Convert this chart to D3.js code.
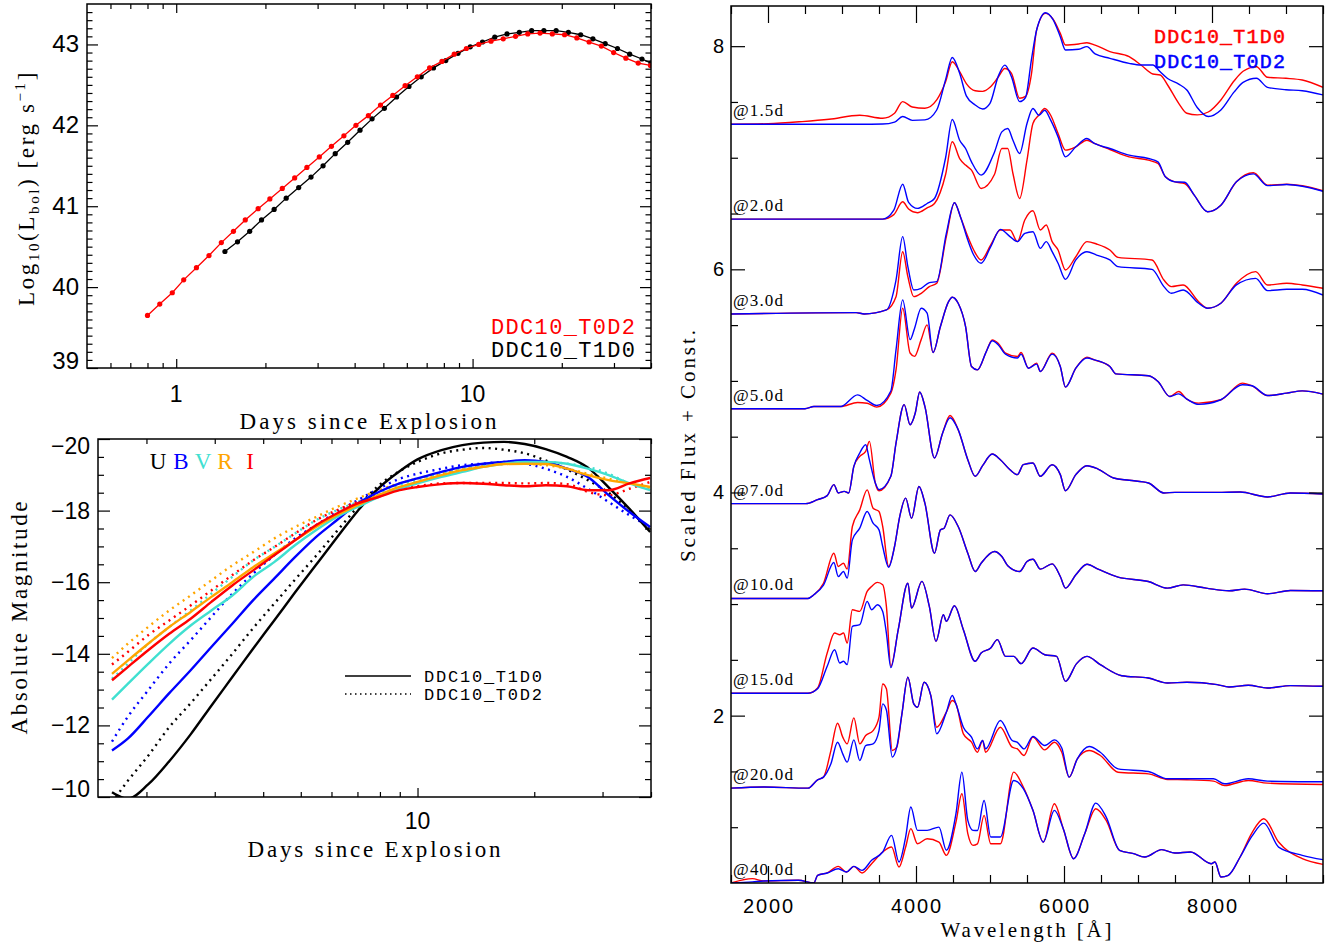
<!DOCTYPE html>
<html>
<head>
<meta charset="utf-8">
<script src="https://cdn.jsdelivr.net/npm/d3@7"></script>
<style>
  body { margin: 0; background: #fff; }
  svg text { font-family: "Liberation Serif", serif; fill: #000; }
  svg text.num { font-family: "Liberation Sans", sans-serif; }
  svg text.mono { font-family: "Liberation Mono", monospace; }
</style>
</head>
<body>
<svg id="fig" width="1326" height="946"></svg>
<script>
// ---------- bolometric light curves (top left) ----------
const lbolTimesT0D2 = [0.80, 0.88, 0.97, 1.06, 1.17, 1.29, 1.42, 1.56, 1.71, 1.89, 2.07, 2.28, 2.51, 2.76, 3.04, 3.34, 3.68, 4.04, 4.45, 4.89, 5.38, 5.92, 6.51, 7.16, 7.88, 8.67, 9.53, 10.49, 11.54, 12.69, 13.96, 15.35, 16.89, 18.58, 20.44, 22.48, 24.73, 27.20, 29.92, 32.91, 36.21, 39.83];
const lbolT0D2 = [39.65, 39.79, 39.93, 40.09, 40.24, 40.39, 40.55, 40.69, 40.83, 40.97, 41.09, 41.22, 41.35, 41.48, 41.61, 41.74, 41.87, 42.00, 42.12, 42.25, 42.37, 42.49, 42.60, 42.71, 42.79, 42.88, 42.95, 43.00, 43.04, 43.07, 43.10, 43.13, 43.14, 43.13, 43.12, 43.08, 43.03, 42.98, 42.90, 42.83, 42.77, 42.74];
const lbolTimesT1D0 = [1.46, 1.61, 1.77, 1.94, 2.14, 2.35, 2.59, 2.85, 3.13, 3.44, 3.79, 4.17, 4.58, 5.04, 5.54, 6.10, 6.71, 7.38, 8.12, 8.93, 9.82, 10.80, 11.88, 13.07, 14.38, 15.82, 17.40, 19.14, 21.05, 23.16, 25.47, 28.02, 30.82, 33.90, 37.29, 40.0];
const lbolT1D0 = [40.44, 40.56, 40.69, 40.83, 40.96, 41.10, 41.23, 41.36, 41.50, 41.65, 41.79, 41.94, 42.08, 42.21, 42.35, 42.48, 42.60, 42.71, 42.80, 42.89, 42.97, 43.03, 43.09, 43.13, 43.15, 43.17, 43.17, 43.17, 43.15, 43.12, 43.07, 43.01, 42.95, 42.88, 42.82, 42.77];

// ---------- UBVRI light curves (bottom left) ----------
const lcTimes = [1.63, 1.79, 2.02, 2.29, 2.6, 2.94, 3.33, 3.77, 4.27, 4.83, 5.47, 6.19, 7.01, 7.94, 8.99, 10, 11.53, 13.05, 14.78, 16.7, 18.9, 21.4, 24.3, 27.5, 31.1, 35.2, 39.8];
const U_T1D0 = [-10.13, -9.95, -10.35, -11.0, -11.75, -12.55, -13.35, -14.15, -14.93, -15.71, -16.48, -17.24, -17.99, -18.63, -19.1, -19.43, -19.69, -19.83, -19.9, -19.92, -19.86, -19.72, -19.5, -19.2, -18.65, -18.05, -17.4];
const U_T0D2 = [-9.85, -10.45, -11.15, -11.95, -12.62, -13.3, -14.0, -14.72, -15.4, -16.07, -16.73, -17.42, -18.1, -18.7, -19.1, -19.36, -19.6, -19.7, -19.75, -19.7, -19.6, -19.4, -19.15, -18.85, -18.5, -18.0, -17.45];
const B_T1D0 = [-11.30, -11.63, -12.24, -12.9, -13.54, -14.19, -14.84, -15.5, -16.1, -16.7, -17.26, -17.73, -18.2, -18.52, -18.76, -18.9, -19.08, -19.22, -19.31, -19.36, -19.41, -19.36, -19.17, -18.94, -18.43, -17.96, -17.54];
const B_T0D2 = [-11.55, -12.24, -12.98, -13.73, -14.38, -15.03, -15.68, -16.24, -16.75, -17.22, -17.59, -17.96, -18.29, -18.61, -18.89, -19.03, -19.17, -19.27, -19.31, -19.36, -19.31, -19.17, -18.94, -18.61, -18.24, -17.87, -17.54];
const V_T1D0 = [-12.72, -13.16, -13.72, -14.28, -14.79, -15.21, -15.63, -16.15, -16.56, -17.03, -17.45, -17.82, -18.1, -18.38, -18.61, -18.76, -18.94, -19.08, -19.22, -19.31, -19.36, -19.36, -19.31, -19.17, -18.99, -18.76, -18.57];
const V_T0D2 = [-13.3, -13.72, -14.28, -14.75, -15.21, -15.68, -16.15, -16.61, -16.98, -17.36, -17.73, -18.01, -18.24, -18.48, -18.71, -18.85, -19.03, -19.17, -19.27, -19.36, -19.39, -19.36, -19.31, -19.22, -19.03, -18.76, -18.61];
const R_T1D0 = [-13.44, -13.81, -14.28, -14.75, -15.17, -15.59, -16.0, -16.42, -16.8, -17.17, -17.54, -17.87, -18.15, -18.43, -18.66, -18.8, -18.99, -19.13, -19.22, -19.3, -19.31, -19.3, -19.17, -18.99, -18.85, -18.76, -18.66];
const R_T0D2 = [-13.88, -14.28, -14.75, -15.21, -15.63, -16.05, -16.47, -16.84, -17.22, -17.54, -17.82, -18.1, -18.34, -18.57, -18.76, -18.9, -19.03, -19.15, -19.24, -19.3, -19.31, -19.27, -19.17, -19.03, -18.89, -18.76, -18.61];
const I_T1D0 = [-13.26, -13.63, -14.1, -14.56, -14.98, -15.45, -15.91, -16.33, -16.75, -17.17, -17.59, -17.92, -18.2, -18.38, -18.57, -18.66, -18.74, -18.77, -18.75, -18.71, -18.68, -18.71, -18.68, -18.57, -18.57, -18.76, -18.91];
const I_T0D2 = [-13.7, -14.05, -14.52, -14.93, -15.35, -15.77, -16.2, -16.61, -16.98, -17.36, -17.73, -18.01, -18.24, -18.43, -18.59, -18.68, -18.76, -18.77, -18.77, -18.77, -18.76, -18.77, -18.74, -18.52, -18.43, -18.61, -18.8];
const bands = ["U", "B", "V", "R", "I"];
const bandColors = ["#000000", "#0000ff", "#40e0d0", "#ffa500", "#ff0000"];

// ---------- spectra (right), flux above each offset ----------
const epochLabels = ["@1.5d", "@2.0d", "@3.0d", "@5.0d", "@7.0d", "@10.0d", "@15.0d", "@20.0d", "@40.0d"];
const epochOffsets = [7.30, 6.45, 5.60, 4.75, 3.90, 3.05, 2.20, 1.35, 0.50];

const wave_1p5 = [1500, 2000, 2460, 2825, 3240, 3550, 3710, 3820, 3950, 4120, 4280, 4400, 4490, 4590, 4680, 4800, 4900, 5000, 5110, 5200, 5290, 5400, 5480, 5560, 5630, 5750, 5850, 5950, 6020, 6200, 6310, 6420, 6620, 6880, 7040, 7200, 7300, 7400, 7550, 7660, 7800, 7950, 8120, 8300, 8420, 8600, 8750, 9000, 9220, 9500];
const t1d0_1p5 = [0, 0.005, 0.024, 0.045, 0.081, 0.054, 0.099, 0.203, 0.155, 0.143, 0.218, 0.38, 0.561, 0.472, 0.365, 0.30, 0.295, 0.331, 0.421, 0.50, 0.457, 0.233, 0.25, 0.45, 0.845, 0.994, 0.945, 0.815, 0.710, 0.72, 0.731, 0.71, 0.651, 0.606, 0.531, 0.451, 0.442, 0.352, 0.188, 0.099, 0.084, 0.11, 0.218, 0.39, 0.475, 0.516, 0.421, 0.412, 0.397, 0.331];
const t0d2_1p5 = [0, 0, 0, 0, 0, 0.002, 0.02, 0.069, 0.035, 0.039, 0.128, 0.40, 0.599, 0.457, 0.255, 0.173, 0.137, 0.188, 0.427, 0.53, 0.427, 0.203, 0.24, 0.58, 0.845, 1.0, 0.94, 0.785, 0.666, 0.672, 0.696, 0.63, 0.591, 0.546, 0.531, 0.531, 0.47, 0.41, 0.36, 0.307, 0.15, 0.069, 0.128, 0.29, 0.375, 0.412, 0.331, 0.31, 0.301, 0.263];

const wave_2p0 = [1500, 3550, 3700, 3820, 3900, 4020, 4150, 4250, 4400, 4490, 4590, 4670, 4750, 4880, 5060, 5160, 5240, 5310, 5400, 5500, 5580, 5660, 5740, 5820, 5920, 6020, 6160, 6310, 6410, 6620, 6880, 7140, 7270, 7370, 7500, 7630, 7760, 7940, 8120, 8330, 8560, 8750, 9010, 9220, 9500];
const t1d0_2p0 = [0, 0, 0.04, 0.155, 0.09, 0.057, 0.10, 0.14, 0.40, 0.693, 0.543, 0.484, 0.439, 0.275, 0.40, 0.633, 0.633, 0.409, 0.185, 0.528, 0.857, 0.931, 0.991, 0.931, 0.767, 0.618, 0.648, 0.707, 0.678, 0.624, 0.558, 0.528, 0.499, 0.379, 0.334, 0.319, 0.215, 0.066, 0.125, 0.334, 0.415, 0.304, 0.313, 0.299, 0.254];
const t0d2_2p0 = [0, 0, 0.08, 0.313, 0.15, 0.096, 0.14, 0.185, 0.55, 0.893, 0.707, 0.633, 0.513, 0.394, 0.60, 0.782, 0.812, 0.707, 0.588, 0.857, 0.991, 0.931, 0.976, 0.887, 0.737, 0.558, 0.648, 0.722, 0.678, 0.633, 0.573, 0.543, 0.513, 0.379, 0.334, 0.33, 0.215, 0.066, 0.125, 0.334, 0.405, 0.30, 0.31, 0.295, 0.25];

const wave_3p0 = [1500, 3190, 3300, 3600, 3730, 3820, 3890, 3970, 4070, 4180, 4280, 4410, 4520, 4600, 4700, 4780, 4880, 5010, 5140, 5270, 5370, 5470, 5580, 5680, 5760, 5840, 5920, 6020, 6160, 6310, 6440, 6620, 6730, 7190, 7350, 7450, 7610, 7820, 7940, 8120, 8330, 8590, 8750, 9010, 9220, 9500];
const t1d0_3p0 = [0, 0.012, 0, 0.036, 0.155, 0.558, 0.334, 0.155, 0.185, 0.245, 0.275, 0.693, 0.997, 0.872, 0.693, 0.573, 0.484, 0.618, 0.752, 0.752, 0.648, 0.842, 0.925, 0.752, 0.797, 0.648, 0.573, 0.394, 0.513, 0.648, 0.627, 0.573, 0.507, 0.484, 0.304, 0.245, 0.260, 0.110, 0.051, 0.096, 0.275, 0.379, 0.260, 0.275, 0.260, 0.230];
const t0d2_3p0 = [0, 0.012, 0, 0.036, 0.304, 0.693, 0.424, 0.215, 0.230, 0.281, 0.290, 0.722, 0.997, 0.872, 0.663, 0.528, 0.454, 0.603, 0.758, 0.693, 0.648, 0.722, 0.737, 0.588, 0.648, 0.558, 0.454, 0.310, 0.484, 0.558, 0.528, 0.484, 0.424, 0.400, 0.245, 0.185, 0.215, 0.096, 0.051, 0.096, 0.260, 0.319, 0.209, 0.221, 0.221, 0.170];

const wave_5p0 = [1500, 2500, 2620, 2980, 3210, 3340, 3470, 3660, 3730, 3820, 3920, 3980, 4070, 4150, 4230, 4330, 4440, 4490, 4570, 4670, 4750, 4830, 4950, 5030, 5110, 5210, 5370, 5420, 5520, 5630, 5680, 5840, 5950, 6020, 6160, 6310, 6410, 6620, 6700, 7140, 7270, 7430, 7550, 7660, 7820, 8120, 8410, 8540, 8750, 9010, 9220, 9500];
const t1d0_5p0 = [0, 0, 0.02, 0.02, 0.057, 0.05, 0.015, 0.14, 0.349, 0.901, 0.50, 0.47, 0.62, 0.752, 0.504, 0.737, 0.961, 1.0, 0.946, 0.737, 0.379, 0.349, 0.513, 0.618, 0.588, 0.499, 0.469, 0.504, 0.364, 0.409, 0.334, 0.499, 0.379, 0.194, 0.364, 0.463, 0.439, 0.379, 0.313, 0.296, 0.245, 0.110, 0.155, 0.087, 0.051, 0.081, 0.230, 0.206, 0.119, 0.140, 0.161, 0.131];
const t0d2_5p0 = [0, 0, 0.02, 0.02, 0.125, 0.075, 0.03, 0.16, 0.528, 0.976, 0.62, 0.72, 0.901, 0.857, 0.504, 0.737, 0.961, 1.0, 0.946, 0.737, 0.379, 0.349, 0.513, 0.610, 0.575, 0.49, 0.455, 0.49, 0.364, 0.40, 0.334, 0.49, 0.379, 0.194, 0.364, 0.455, 0.439, 0.379, 0.313, 0.296, 0.245, 0.110, 0.134, 0.087, 0.04, 0.081, 0.215, 0.206, 0.119, 0.140, 0.161, 0.131];

const wave_7p0 = [1500, 2510, 2670, 2800, 2890, 2950, 3030, 3090, 3160, 3240, 3320, 3370, 3450, 3500, 3660, 3730, 3840, 3920, 3990, 4050, 4120, 4250, 4360, 4460, 4570, 4700, 4800, 4900, 5030, 5140, 5270, 5370, 5450, 5580, 5680, 5840, 5950, 6020, 6160, 6310, 6460, 6670, 6880, 7140, 7350, 7500, 7820, 8070, 8380, 8750, 9060, 9500];
const t1d0_7p0 = [0, 0, 0.036, 0.072, 0.170, 0.096, 0.110, 0.096, 0.334, 0.424, 0.469, 0.558, 0.185, 0.115, 0.245, 0.543, 0.887, 0.707, 0.812, 1.0, 0.872, 0.409, 0.633, 0.79, 0.663, 0.394, 0.245, 0.340, 0.445, 0.394, 0.304, 0.260, 0.349, 0.364, 0.245, 0.349, 0.260, 0.116, 0.260, 0.340, 0.310, 0.230, 0.209, 0.185, 0.096, 0.101, 0.101, 0.101, 0.104, 0.060, 0.096, 0.087];
const t0d2_7p0 = [0, 0, 0.036, 0.072, 0.170, 0.096, 0.110, 0.096, 0.334, 0.454, 0.528, 0.394, 0.185, 0.125, 0.245, 0.543, 0.887, 0.707, 0.812, 1.0, 0.872, 0.409, 0.633, 0.77, 0.663, 0.394, 0.245, 0.340, 0.445, 0.394, 0.304, 0.260, 0.349, 0.364, 0.245, 0.349, 0.260, 0.116, 0.260, 0.340, 0.310, 0.230, 0.209, 0.185, 0.096, 0.101, 0.101, 0.101, 0.104, 0.060, 0.096, 0.087];

const wave_10p0 = [1500, 2540, 2620, 2750, 2890, 2950, 3020, 3070, 3140, 3240, 3340, 3420, 3500, 3550, 3630, 3710, 3780, 3860, 3940, 4040, 4120, 4250, 4330, 4380, 4460, 4570, 4700, 4800, 4880, 5060, 5160, 5240, 5400, 5500, 5580, 5680, 5840, 5950, 6020, 6160, 6310, 6460, 6730, 7140, 7400, 7610, 7920, 8230, 8440, 8750, 9060, 9500];
const t1d0_10p0 = [0, 0, 0.033, 0.137, 0.406, 0.287, 0.316, 0.263, 0.645, 0.794, 0.973, 0.809, 0.779, 0.645, 0.287, 0.466, 0.734, 0.899, 0.719, 1.003, 0.854, 0.406, 0.615, 0.630, 0.749, 0.645, 0.406, 0.242, 0.316, 0.421, 0.376, 0.293, 0.242, 0.331, 0.352, 0.263, 0.310, 0.197, 0.093, 0.212, 0.307, 0.263, 0.191, 0.152, 0.093, 0.122, 0.093, 0.069, 0.084, 0.042, 0.072, 0.069];
const t0d2_10p0 = [0, 0, 0.033, 0.12, 0.322, 0.197, 0.242, 0.182, 0.525, 0.630, 0.779, 0.675, 0.615, 0.466, 0.28, 0.466, 0.734, 0.899, 0.719, 1.003, 0.854, 0.406, 0.615, 0.630, 0.749, 0.645, 0.406, 0.242, 0.316, 0.421, 0.376, 0.293, 0.242, 0.331, 0.352, 0.263, 0.310, 0.197, 0.093, 0.212, 0.307, 0.263, 0.191, 0.152, 0.093, 0.122, 0.093, 0.069, 0.084, 0.042, 0.072, 0.069];

const wave_15p0 = [1500, 2540, 2670, 2800, 2900, 2970, 3020, 3070, 3140, 3240, 3340, 3400, 3480, 3550, 3600, 3660, 3760, 3890, 3940, 4080, 4180, 4270, 4370, 4410, 4520, 4640, 4800, 4880, 5010, 5100, 5210, 5320, 5420, 5580, 5740, 5900, 6020, 6170, 6310, 6490, 6780, 7140, 7400, 7660, 8070, 8230, 8490, 8750, 9060, 9500];
const t1d0_15p0 = [0, 0, 0.048, 0.361, 0.540, 0.525, 0.540, 0.451, 0.749, 0.734, 0.913, 0.958, 0.994, 0.973, 0.779, 0.242, 0.570, 0.988, 0.764, 1.003, 0.779, 0.466, 0.704, 0.645, 0.785, 0.570, 0.287, 0.361, 0.406, 0.481, 0.331, 0.331, 0.266, 0.406, 0.346, 0.331, 0.107, 0.266, 0.331, 0.257, 0.158, 0.137, 0.093, 0.099, 0.078, 0.057, 0.072, 0.048, 0.069, 0.063];
const t0d2_15p0 = [0, 0, 0.04, 0.242, 0.391, 0.272, 0.287, 0.257, 0.600, 0.615, 0.824, 0.749, 0.794, 0.734, 0.540, 0.23, 0.570, 0.988, 0.764, 1.003, 0.779, 0.466, 0.704, 0.645, 0.785, 0.570, 0.287, 0.361, 0.406, 0.481, 0.331, 0.331, 0.266, 0.406, 0.346, 0.331, 0.107, 0.266, 0.331, 0.257, 0.158, 0.137, 0.093, 0.099, 0.078, 0.057, 0.072, 0.048, 0.069, 0.063];

const wave_20p0 = [1500, 1950, 2540, 2670, 2750, 2850, 2940, 3010, 3070, 3160, 3240, 3320, 3420, 3500, 3550, 3600, 3680, 3740, 3810, 3890, 3970, 4020, 4110, 4200, 4280, 4410, 4490, 4540, 4640, 4750, 4830, 4900, 4940, 5140, 5300, 5370, 5460, 5580, 5740, 5870, 5970, 6070, 6180, 6340, 6490, 6730, 7140, 7400, 7660, 8020, 8170, 8490, 8750, 9500];
const t1d0_20p0 = [0, 0.01, 0, 0.075, 0.099, 0.337, 0.582, 0.457, 0.397, 0.630, 0.397, 0.472, 0.516, 0.636, 0.934, 0.890, 0.337, 0.367, 0.666, 0.994, 0.755, 0.725, 0.949, 0.830, 0.546, 0.681, 0.785, 0.755, 0.487, 0.412, 0.322, 0.427, 0.322, 0.546, 0.367, 0.352, 0.293, 0.457, 0.343, 0.412, 0.322, 0.099, 0.263, 0.337, 0.293, 0.143, 0.128, 0.078, 0.075, 0.063, 0.024, 0.069, 0.045, 0.033];
const t0d2_20p0 = [0, 0.01, 0, 0.075, 0.099, 0.218, 0.412, 0.307, 0.233, 0.433, 0.248, 0.382, 0.397, 0.516, 0.755, 0.70, 0.278, 0.367, 0.666, 0.994, 0.755, 0.725, 0.949, 0.830, 0.487, 0.681, 0.830, 0.755, 0.546, 0.457, 0.352, 0.427, 0.352, 0.606, 0.427, 0.41, 0.352, 0.463, 0.382, 0.433, 0.36, 0.099, 0.263, 0.373, 0.322, 0.173, 0.149, 0.084, 0.085, 0.084, 0.039, 0.084, 0.063, 0.057];

const wave_40p0 = [1500, 1790, 1940, 2410, 2620, 2670, 2800, 2950, 3060, 3160, 3270, 3400, 3550, 3670, 3770, 3860, 3930, 4020, 4150, 4310, 4410, 4540, 4620, 4700, 4770, 4830, 4920, 5010, 5140, 5320, 5450, 5580, 5720, 5870, 5990, 6130, 6280, 6430, 6570, 6750, 6940, 7090, 7320, 7500, 7710, 7990, 8040, 8120, 8220, 8380, 8540, 8700, 8900, 9220, 9500];
const t1d0_40p0 = [0, 0.039, 0.018, 0.024, 0, 0.069, 0.090, 0.149, 0.099, 0.149, 0.090, 0.173, 0.278, 0.322, 0.143, 0.322, 0.487, 0.352, 0.397, 0.367, 0.248, 0.546, 0.800, 0.442, 0.337, 0.35, 0.606, 0.352, 0.352, 0.994, 0.860, 0.651, 0.367, 0.710, 0.487, 0.218, 0.442, 0.666, 0.561, 0.293, 0.263, 0.233, 0.299, 0.269, 0.278, 0.173, 0.188, 0.054, 0.069, 0.233, 0.45, 0.576, 0.367, 0.218, 0.167];
const t0d2_40p0 = [0, 0.01, 0.018, 0.024, 0, 0.069, 0.090, 0.128, 0.099, 0.149, 0.113, 0.203, 0.278, 0.427, 0.188, 0.412, 0.681, 0.472, 0.472, 0.501, 0.293, 0.621, 0.994, 0.561, 0.472, 0.47, 0.740, 0.412, 0.412, 0.919, 0.845, 0.651, 0.367, 0.651, 0.487, 0.218, 0.442, 0.716, 0.591, 0.293, 0.263, 0.233, 0.299, 0.269, 0.278, 0.173, 0.188, 0.054, 0.069, 0.233, 0.42, 0.537, 0.322, 0.248, 0.209];

const specWaves = [wave_1p5, wave_2p0, wave_3p0, wave_5p0, wave_7p0, wave_10p0, wave_15p0, wave_20p0, wave_40p0];
const specT1D0 = [t1d0_1p5, t1d0_2p0, t1d0_3p0, t1d0_5p0, t1d0_7p0, t1d0_10p0, t1d0_15p0, t1d0_20p0, t1d0_40p0];
const specT0D2 = [t0d2_1p5, t0d2_2p0, t0d2_3p0, t0d2_5p0, t0d2_7p0, t0d2_10p0, t0d2_15p0, t0d2_20p0, t0d2_40p0];

// ---------- layout ----------
const svg = d3.select("#fig");
const pA = {l: 87, r: 651, t: 4, b: 368};     // top left
const pB = {l: 98, r: 651, t: 439, b: 797};   // bottom left
const pC = {l: 731, r: 1323, t: 6, b: 883};   // right

const xA = d3.scaleLog().domain([0.5, 40]).range([pA.l, pA.r]);
const yA = d3.scaleLinear().domain([39, 43.5]).range([pA.b, pA.t]);
const xB = d3.scaleLog().domain([1.5, 40]).range([pB.l, pB.r]);
const yB = d3.scaleLinear().domain([-10, -20]).range([pB.b, pB.t]);
const xC = d3.scaleLinear().domain([1500, 9500]).range([pC.l, pC.r]);
const yC = d3.scaleLinear().domain([0.5, 8.36]).range([pC.b, pC.t]);

const defs = svg.append("defs");
function clip(id, p) {
  defs.append("clipPath").attr("id", id).append("rect")
    .attr("x", p.l).attr("y", p.t).attr("width", p.r - p.l).attr("height", p.b - p.t);
  return svg.append("g").attr("clip-path", `url(#${id})`);
}

// inward ticks on all four sides
function frame(p, xs, ys, xMaj, xMin, yMaj, yMin, xLen, yLen) {
  const g = svg.append("g");
  function put(fn, scale, vals, len, tx, ty) {
    g.append("g").attr("transform", `translate(${tx},${ty})`)
      .call(fn(scale).tickValues(vals).tickSize(-len).tickFormat(""))
      .call(s => s.select(".domain").remove())
      .selectAll("line").attr("stroke", "#000").attr("stroke-width", 1.2);
  }
  put(d3.axisBottom, xs, xMaj, xLen[0], 0, p.b);
  put(d3.axisBottom, xs, xMin, xLen[1], 0, p.b);
  put(d3.axisTop, xs, xMaj, xLen[0], 0, p.t);
  put(d3.axisTop, xs, xMin, xLen[1], 0, p.t);
  put(d3.axisLeft, ys, yMaj, yLen[0], p.l, 0);
  put(d3.axisLeft, ys, yMin, yLen[1], p.l, 0);
  put(d3.axisRight, ys, yMaj, yLen[0], p.r, 0);
  put(d3.axisRight, ys, yMin, yLen[1], p.r, 0);
  g.append("rect").attr("x", p.l).attr("y", p.t)
    .attr("width", p.r - p.l).attr("height", p.b - p.t)
    .attr("fill", "none").attr("stroke", "#000").attr("stroke-width", 1.5);
}

// ================= Panel A =================
const gA = clip("clipA", pA);
const lineA = d3.line().x(d => xA(d[0])).y(d => yA(d[1]));
[[lbolTimesT1D0, lbolT1D0, "#000"], [lbolTimesT0D2, lbolT0D2, "#ff0000"]].forEach(([ts, vs, c]) => {
  const pts = ts.map((t, i) => [t, vs[i]]);
  gA.append("path").datum(pts).attr("d", lineA)
    .attr("fill", "none").attr("stroke", c).attr("stroke-width", 1.3);
  gA.selectAll(null).data(pts).enter().append("circle")
    .attr("cx", d => xA(d[0])).attr("cy", d => yA(d[1])).attr("r", 2.6).attr("fill", c);
});
frame(pA, xA, yA, [1, 10],
  [0.6, 0.7, 0.8, 0.9, 2, 3, 4, 5, 6, 7, 8, 9, 20, 30, 40],
  [39, 40, 41, 42, 43], d3.range(39.1, 43.5, 0.1).filter(v => Math.abs(v - Math.round(v)) > 0.01),
  [9, 5], [11, 5.5]);
[1, 10].forEach(v => svg.append("text").attr("class", "num").attr("x", xA(v)).attr("y", 402)
  .attr("text-anchor", "middle").attr("font-size", 23).text(v));
[39, 40, 41, 42, 43].forEach(v => svg.append("text").attr("class", "num").attr("x", 79)
  .attr("y", Math.min(yA(v) + 8, 369)).attr("text-anchor", "end").attr("font-size", 24).text(v));
svg.append("text").attr("x", 368).attr("y", 429).attr("text-anchor", "middle")
  .attr("font-size", 23).attr("textLength", 257).attr("lengthAdjust", "spacing").text("Days since Explosion");
{
  const t = svg.append("text").attr("transform", "translate(34,188) rotate(-90)")
    .attr("text-anchor", "middle").attr("font-size", 23).attr("letter-spacing", 2.6);
  t.append("tspan").text("Log");
  t.append("tspan").attr("font-size", 15).attr("dy", 5).text("10");
  t.append("tspan").attr("dy", -5).text("(L");
  t.append("tspan").attr("font-size", 15).attr("dy", 5).text("bol");
  t.append("tspan").attr("dy", -5).text(")  [erg s");
  t.append("tspan").attr("font-size", 15).attr("dy", -9).text("−1");
  t.append("tspan").attr("dy", 9).text("]");
}
svg.append("text").attr("class", "mono").attr("x", 635).attr("y", 334).attr("text-anchor", "end")
  .attr("font-size", 22).attr("textLength", 144).style("fill", "#ff0000").text("DDC10_T0D2");
svg.append("text").attr("class", "mono").attr("x", 635).attr("y", 357).attr("text-anchor", "end")
  .attr("font-size", 22).attr("textLength", 144).text("DDC10_T1D0");

// ================= Panel B =================
const gB = clip("clipB", pB);
const lineB = d3.line().x(d => xB(d[0])).y(d => yB(d[1])).curve(d3.curveMonotoneX);
const solidSets = [U_T1D0, B_T1D0, V_T1D0, R_T1D0, I_T1D0];
const dottedSets = [U_T0D2, B_T0D2, V_T0D2, R_T0D2, I_T0D2];
dottedSets.forEach((m, k) => {
  gB.append("path").datum(lcTimes.map((t, i) => [t, m[i]])).attr("d", lineB)
    .attr("fill", "none").attr("stroke", bandColors[k]).attr("stroke-width", 2.4)
    .attr("stroke-dasharray", "2 4.5");
});
solidSets.forEach((m, k) => {
  gB.append("path").datum(lcTimes.map((t, i) => [t, m[i]])).attr("d", lineB)
    .attr("fill", "none").attr("stroke", bandColors[k]).attr("stroke-width", 2.4);
});
frame(pB, xB, yB, [10], [2, 3, 4, 5, 6, 7, 8, 9, 20, 30, 40],
  [-20, -18, -16, -14, -12, -10], d3.range(-19.5, -10, 0.5).filter(v => Math.abs(v % 2) > 0.01),
  [9, 5], [12, 6]);
svg.append("text").attr("class", "num").attr("x", xB(10)).attr("y", 829)
  .attr("text-anchor", "middle").attr("font-size", 23).text("10");
[-20, -18, -16, -14, -12, -10].forEach(v => {
  const yy = Math.min(Math.max(yB(v), 446), 789) + 8;
  svg.append("text").attr("class", "num").attr("x", 90).attr("y", yy)
    .attr("text-anchor", "end").attr("font-size", 23).text("−" + Math.abs(v));
});
svg.append("text").attr("x", 374).attr("y", 857).attr("text-anchor", "middle")
  .attr("font-size", 23).attr("textLength", 253).attr("lengthAdjust", "spacing").text("Days since Explosion");
svg.append("text").attr("transform", "translate(27,618) rotate(-90)").attr("text-anchor", "middle")
  .attr("font-size", 23).attr("textLength", 233).attr("lengthAdjust", "spacing").text("Absolute Magnitude");
[158, 181, 203, 225, 250].forEach((x, k) => svg.append("text").attr("x", x).attr("y", 469)
  .attr("text-anchor", "middle").attr("font-size", 23).style("fill", bandColors[k]).text(bands[k]));
svg.append("line").attr("x1", 345).attr("x2", 411).attr("y1", 676).attr("y2", 676)
  .attr("stroke", "#000").attr("stroke-width", 1.6);
svg.append("line").attr("x1", 345).attr("x2", 411).attr("y1", 694).attr("y2", 694)
  .attr("stroke", "#000").attr("stroke-width", 1.6).attr("stroke-dasharray", "1.5 3.5");
svg.append("text").attr("class", "mono").attr("x", 424).attr("y", 682).attr("font-size", 17)
  .attr("textLength", 118).text("DDC10_T1D0");
svg.append("text").attr("class", "mono").attr("x", 424).attr("y", 700).attr("font-size", 17)
  .attr("textLength", 118).text("DDC10_T0D2");

// ================= Panel C =================
const gC = clip("clipC", pC);
epochOffsets.forEach((off, e) => {
  const lineC = d3.line().x(d => xC(d[0])).y(d => yC(d[1] + off)).curve(d3.curveMonotoneX);
  const w = specWaves[e];
  gC.append("path").datum(w.map((l, i) => [l, specT1D0[e][i]])).attr("d", lineC)
    .attr("fill", "none").attr("stroke", "#ff0000").attr("stroke-width", 1.4);
  gC.append("path").datum(w.map((l, i) => [l, specT0D2[e][i]])).attr("d", lineC)
    .attr("fill", "none").attr("stroke", "#0000ff").attr("stroke-width", 1.4);
  svg.append("text").attr("x", 733).attr("y", yC(off) - 8).attr("font-size", 17)
    .attr("textLength", epochLabels[e].length * 10).text(epochLabels[e]);
});
frame(pC, xC, yC, [2000, 4000, 6000, 8000], d3.range(1500, 9501, 500).filter(v => v % 2000 !== 0),
  [2, 4, 6, 8], d3.range(1, 8.4, 0.5).filter(v => v % 2 !== 0), [17, 8], [14, 7]);
[2000, 4000, 6000, 8000].forEach(v => svg.append("text").attr("class", "num").attr("x", xC(v)).attr("y", 913)
  .attr("text-anchor", "middle").attr("font-size", 20).attr("textLength", 50).text(v));
[2, 4, 6, 8].forEach(v => svg.append("text").attr("class", "num").attr("x", 724).attr("y", yC(v) + 7)
  .attr("text-anchor", "end").attr("font-size", 20).text(v));
svg.append("text").attr("x", 1026).attr("y", 937).attr("text-anchor", "middle")
  .attr("font-size", 21).attr("textLength", 171).attr("lengthAdjust", "spacing").text("Wavelength  [Å]");
svg.append("text").attr("transform", "translate(695,446) rotate(-90)").attr("text-anchor", "middle")
  .attr("font-size", 21).attr("textLength", 232).attr("lengthAdjust", "spacing").text("Scaled Flux + Const.");
svg.append("text").attr("class", "mono").attr("x", 1154).attr("y", 43).attr("font-size", 20)
  .attr("textLength", 131).style("fill", "#ff0000").attr("stroke", "#ff0000").attr("stroke-width", 0.5)
  .text("DDC10_T1D0");
svg.append("text").attr("class", "mono").attr("x", 1154).attr("y", 68).attr("font-size", 20)
  .attr("textLength", 131).style("fill", "#0000ff").attr("stroke", "#0000ff").attr("stroke-width", 0.5)
  .text("DDC10_T0D2");
</script>
</body>
</html>
